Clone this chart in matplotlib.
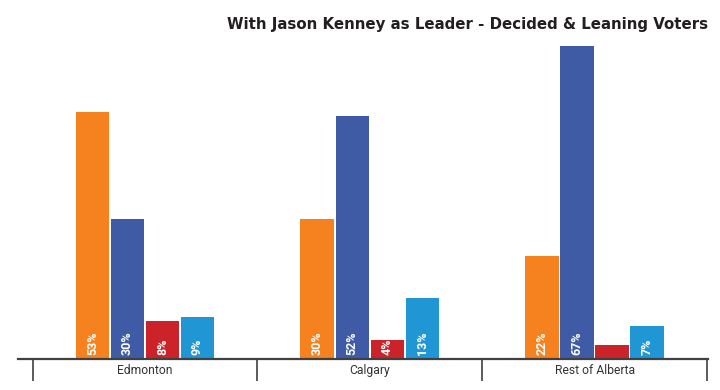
import matplotlib
matplotlib.use("Agg")
import matplotlib.pyplot as plt
import numpy as np

regions = ["Edmonton", "Calgary", "Rest of Alberta"]
series_names = ["NDP", "UCP", "Liberal", "Alberta Party"]
ndp = [53, 30, 22]
ucp = [30, 52, 67]
liberal = [8, 4, 3]
alberta_party = [9, 13, 7]
labels_shown = [
    ["53%", "30%", "8%", "9%"],
    ["30%", "52%", "4%", "13%"],
    ["22%", "67%", "", "7%"],
]
title = "With Jason Kenney as Leader - Decided & Leaning Voters"

colors = ["#F5821F", "#3F5BA5", "#CC2229", "#2196D5"]
series = [ndp, ucp, liberal, alberta_party]

fig = plt.figure(figsize=(7.2, 3.9), dpi=100)
ax = fig.add_axes([18/720, (390-358.5)/390, 690/720, (358.5-32.3)/390])

x = np.arange(len(regions))
step = 0.1557
width = 0.149
offsets = (np.arange(4) - 1.5) * step
for i, (vals, c) in enumerate(zip(series, colors)):
    bars = ax.bar(x + offsets[i], vals, width=width, color=c, zorder=2)
    for j, b in enumerate(bars):
        lab = labels_shown[j][i]
        if lab:
            ax.text(b.get_x() + b.get_width()/2, 0.7, lab, rotation=90,
                    ha="center", va="bottom", color="white",
                    fontsize=9, fontweight="bold", family="Roboto", zorder=3)

ax.set_xlim(-0.5645, 2.5044)
ax.set_ylim(0, 70)
for s in ["top", "right", "left"]:
    ax.spines[s].set_visible(False)
ax.spines["bottom"].set_color("#404040")
ax.spines["bottom"].set_linewidth(1.6)
ax.set_yticks([])
ax.set_xticks(x)
ax.set_xticklabels(regions, fontsize=8.7, family="Roboto", color="#333333")
ax.tick_params(axis="x", which="major", length=0, pad=4.2)
ax.set_xticks([-0.5, 0.5, 1.5, 2.5], minor=True)
ax.tick_params(axis="x", which="minor", length=16, width=1.2, color="#404040", direction="out")

fig.text(708/720, 1 - 25/390, title, ha="right", va="center",
         fontsize=10.8, fontweight="bold", family="DejaVu Sans", color="#231F20")

fig.savefig("out.png", dpi=100)
